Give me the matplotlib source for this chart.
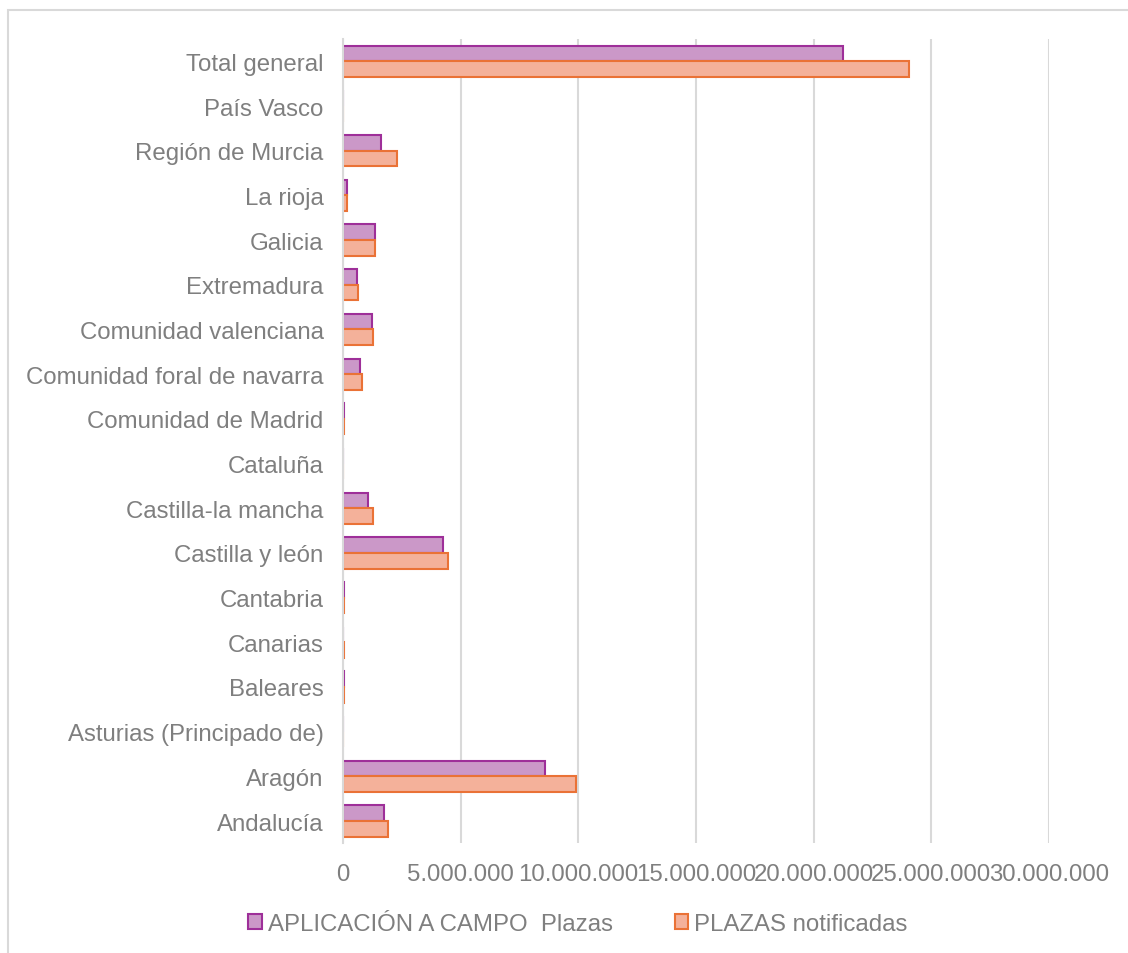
import matplotlib.pyplot as plt
import numpy as np
from matplotlib.patches import Patch, Rectangle
from matplotlib.ticker import FuncFormatter

plt.rcParams['font.family'] = ['Liberation Sans', 'DejaVu Sans']

# categorias de abajo hacia arriba
categories = ['Andalucía', 'Aragón', 'Asturias (Principado de)', 'Baleares', 'Canarias',
              'Cantabria', 'Castilla y león', 'Castilla-la mancha', 'Cataluña',
              'Comunidad de Madrid', 'Comunidad foral de navarra', 'Comunidad valenciana',
              'Extremadura', 'Galicia', 'La rioja', 'Región de Murcia', 'País Vasco',
              'Total general']
aplicacion = [1730000, 8600000, 0, 30000, 0, 30000, 4250000, 1060000, 0, 40000,
              720000, 1240000, 600000, 1340000, 180000, 1600000, 0, 21250000]
notificadas = [1900000, 9910000, 0, 30000, 25000, 30000, 4480000, 1280000, 0, 40000,
               810000, 1280000, 630000, 1380000, 180000, 2280000, 0, 24070000]
xticks = [0, 5000000, 10000000, 15000000, 20000000, 25000000, 30000000]
series_names = ['APLICACIÓN A CAMPO  Plazas', 'PLAZAS notificadas']

gray_text = '#7f7f7f'
grid_col = '#d9d9d9'
purple_fill, purple_edge = '#cb98c8', '#9e2f99'
orange_fill, orange_edge = '#f4b19a', '#ea7236'
fs = 17.3

W, H = 1128, 954
fig = plt.figure(figsize=(W / 100, H / 100), dpi=100)
ax = fig.add_axes([343 / W, (H - 844.4) / H, (1049 - 343) / W, 804.4 / H])

y = np.arange(len(categories))
h = 0.35
ax.barh(y + h / 2, aplicacion, height=h, color=purple_fill, edgecolor=purple_edge, linewidth=1.5, zorder=3)
ax.barh(y - h / 2, notificadas, height=h, color=orange_fill, edgecolor=orange_edge, linewidth=1.5, zorder=3)

ax.set_xlim(0, 30000000)
ax.set_ylim(-0.5, len(categories) - 0.5)
ax.set_xticks(xticks)
ax.xaxis.set_major_formatter(FuncFormatter(lambda v, p: f'{int(v):,}'.replace(',', '.')))
ax.set_yticks(y)
ax.set_yticklabels(categories)
ax.tick_params(axis='both', length=0, labelsize=fs, colors=gray_text)
ax.tick_params(axis='y', pad=14)
ax.tick_params(axis='x', pad=14)

ax.grid(axis='x', color=grid_col, linewidth=1.5, zorder=0)
for s in ['top', 'right', 'bottom']:
    ax.spines[s].set_visible(False)
ax.spines['left'].set_color(grid_col)
ax.spines['left'].set_linewidth(1.5)
ax.spines['left'].set_zorder(4)

handles = [Patch(facecolor=purple_fill, edgecolor=purple_edge, linewidth=1.5),
           Patch(facecolor=orange_fill, edgecolor=orange_edge, linewidth=1.5)]
fig.legend(handles, series_names, loc='center', bbox_to_anchor=(578 / W, 1 - 925 / H),
           ncol=2, frameon=False, fontsize=fs, labelcolor=gray_text,
           handlelength=0.55, handleheight=0.55, handletextpad=0.25, columnspacing=2.6)

# marco del grafico
fig.add_artist(Rectangle((8 / W, -0.1), 1.2, (H - 11) / H + 0.1, transform=fig.transFigure,
                         fill=False, edgecolor=grid_col, linewidth=1.5))

fig.savefig('out.png', dpi=100)
